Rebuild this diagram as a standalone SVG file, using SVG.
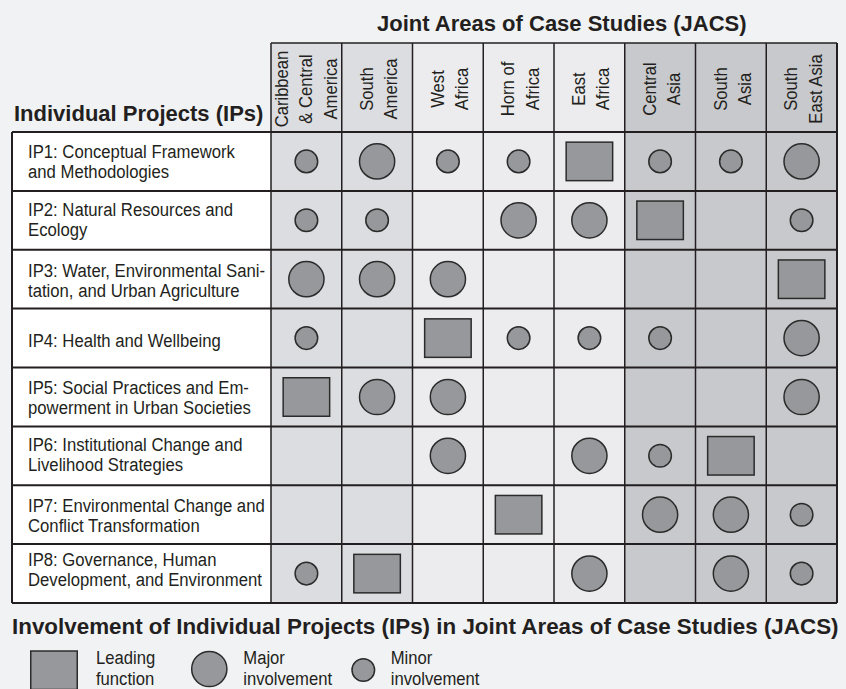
<svg xmlns="http://www.w3.org/2000/svg" xmlns:xlink="http://www.w3.org/1999/xlink" width="846" height="689" viewBox="0 0 846 689">
<style>
.title{font-family:"Liberation Sans",Arial,sans-serif;font-weight:bold;fill:#231f20}
.lbl{font-family:"Liberation Sans",Arial,sans-serif;font-size:18px;fill:#231f20}
.leg{font-family:"Liberation Sans",Arial,sans-serif;font-size:18.5px;fill:#231f20}
.hdr{font-family:"Liberation Sans",Arial,sans-serif;font-size:19px;fill:#231f20;text-anchor:middle}
.mk{fill:#97989b;stroke:#2b2b2b;stroke-width:1.5}
.hl{stroke:#231f20;stroke-width:2;fill:none}
.vl{stroke:#231f20;stroke-width:1.5;fill:none}
</style>
<defs>
<rect id="sq" class="mk" x="-23.25" y="-19.25" width="46.5" height="38.5"/>
<circle id="lg" class="mk" r="17.6"/>
<circle id="sm" class="mk" r="11.3"/>
</defs>
<rect width="846" height="689" fill="#f1f2f4"/>

<g id="titles">
<text class="title" x="377" y="31" font-size="22">Joint Areas of Case Studies (JACS)</text>
<text class="title" x="14" y="121" font-size="22">Individual Projects (IPs)</text>
<text class="title" x="12" y="634" font-size="22.4">Involvement of Individual Projects (IPs) in Joint Areas of Case Studies (JACS)</text>
</g>

<g id="table">
<rect x="271" y="43" width="141.5" height="560" fill="#dcdde0"/>
<rect x="412.5" y="43" width="212.25" height="560" fill="#ececee"/>
<rect x="624.75" y="43" width="212.25" height="560" fill="#c8c9cc"/>
<rect x="12" y="132" width="259" height="471" fill="#ffffff"/>
</g>

<g id="header">
<text class="hdr" transform="translate(287.6 89) rotate(-90) scale(0.875 1)">Caribbean</text>
<text class="hdr" transform="translate(312 89) rotate(-90) scale(0.875 1)">&amp; Central</text>
<text class="hdr" transform="translate(336.5 89) rotate(-90) scale(0.875 1)">America</text>
<text class="hdr" transform="translate(372.6 89) rotate(-90) scale(0.875 1)">South</text>
<text class="hdr" transform="translate(396.8 89) rotate(-90) scale(0.875 1)">America</text>
<text class="hdr" transform="translate(443.6 89) rotate(-90) scale(0.875 1)">West</text>
<text class="hdr" transform="translate(467.8 89) rotate(-90) scale(0.875 1)">Africa</text>
<text class="hdr" transform="translate(514.3 89) rotate(-90) scale(0.875 1)">Horn of</text>
<text class="hdr" transform="translate(538.5 89) rotate(-90) scale(0.875 1)">Africa</text>
<text class="hdr" transform="translate(585.1 89) rotate(-90) scale(0.875 1)">East</text>
<text class="hdr" transform="translate(609.3 89) rotate(-90) scale(0.875 1)">Africa</text>
<text class="hdr" transform="translate(655.8 89) rotate(-90) scale(0.875 1)">Central</text>
<text class="hdr" transform="translate(680 89) rotate(-90) scale(0.875 1)">Asia</text>
<text class="hdr" transform="translate(726.6 89) rotate(-90) scale(0.875 1)">South</text>
<text class="hdr" transform="translate(750.8 89) rotate(-90) scale(0.875 1)">Asia</text>
<text class="hdr" transform="translate(797.3 89) rotate(-90) scale(0.875 1)">South</text>
<text class="hdr" transform="translate(821.5 89) rotate(-90) scale(0.875 1)">East Asia</text>
</g>

<g id="connectors">
<path class="vl" d="M271,43H837"/>
<path class="hl" d="M12,132H837M12,190.9H837M12,249.75H837M12,308.6H837M12,367.5H837M12,426.4H837M12,485.25H837M12,544.1H837M12,603H837"/>
<path class="hl" d="M12,132V603M837,43V603"/>
<path class="vl" d="M271,43V603M341.75,43V603M412.5,43V603M483.25,43V603M554,43V603M624.75,43V603M695.5,43V603M766.25,43V603"/>
</g>

<g id="labels">
<g id="ip1"><text class="lbl" transform="translate(28 157.5) scale(0.928 1)">IP1: Conceptual Framework</text><text class="lbl" transform="translate(28 177.5) scale(0.928 1)">and Methodologies</text></g>
<g id="ip2"><text class="lbl" transform="translate(28 216) scale(0.928 1)">IP2: Natural Resources and</text><text class="lbl" transform="translate(28 236) scale(0.928 1)">Ecology</text></g>
<g id="ip3"><text class="lbl" transform="translate(28 277) scale(0.928 1)">IP3: Water, Environmental Sani-</text><text class="lbl" transform="translate(28 296.5) scale(0.928 1)">tation, and Urban Agriculture</text></g>
<g id="ip4"><text class="lbl" transform="translate(28 346.5) scale(0.928 1)">IP4: Health and Wellbeing</text></g>
<g id="ip5"><text class="lbl" transform="translate(28 394) scale(0.928 1)">IP5: Social Practices and Em-</text><text class="lbl" transform="translate(28 414) scale(0.928 1)">powerment in Urban Societies</text></g>
<g id="ip6"><text class="lbl" transform="translate(28 451) scale(0.928 1)">IP6: Institutional Change and</text><text class="lbl" transform="translate(28 471) scale(0.928 1)">Livelihood Strategies</text></g>
<g id="ip7"><text class="lbl" transform="translate(28 511.5) scale(0.928 1)">IP7: Environmental Change and</text><text class="lbl" transform="translate(28 531.5) scale(0.928 1)">Conflict Transformation</text></g>
<g id="ip8"><text class="lbl" transform="translate(28 566) scale(0.928 1)">IP8: Governance, Human</text><text class="lbl" transform="translate(28 586) scale(0.928 1)">Development, and Environment</text></g>
</g>

<g id="marks">
<g id="r1">
<use xlink:href="#sm" href="#sm" x="306.4" y="161.4"/><use xlink:href="#lg" href="#lg" x="377.1" y="161.4"/><use xlink:href="#sm" href="#sm" x="447.9" y="161.4"/><use xlink:href="#sm" href="#sm" x="518.6" y="161.4"/><use xlink:href="#sq" href="#sq" x="589.4" y="161.4"/><use xlink:href="#sm" href="#sm" x="660.1" y="161.4"/><use xlink:href="#sm" href="#sm" x="730.9" y="161.4"/><use xlink:href="#lg" href="#lg" x="801.6" y="161.4"/>
</g>
<g id="r2">
<use xlink:href="#sm" href="#sm" x="306.4" y="220.3"/><use xlink:href="#sm" href="#sm" x="377.1" y="220.3"/><use xlink:href="#lg" href="#lg" x="518.6" y="220.3"/><use xlink:href="#lg" href="#lg" x="589.4" y="220.3"/><use xlink:href="#sq" href="#sq" x="660.1" y="220.3"/><use xlink:href="#sm" href="#sm" x="801.6" y="220.3"/>
</g>
<g id="r3">
<use xlink:href="#lg" href="#lg" x="306.4" y="279.2"/><use xlink:href="#lg" href="#lg" x="377.1" y="279.2"/><use xlink:href="#lg" href="#lg" x="447.9" y="279.2"/><use xlink:href="#sq" href="#sq" x="801.6" y="279.2"/>
</g>
<g id="r4">
<use xlink:href="#sm" href="#sm" x="306.4" y="338.1"/><use xlink:href="#sq" href="#sq" x="447.9" y="338.1"/><use xlink:href="#sm" href="#sm" x="518.6" y="338.1"/><use xlink:href="#sm" href="#sm" x="589.4" y="338.1"/><use xlink:href="#sm" href="#sm" x="660.1" y="338.1"/><use xlink:href="#lg" href="#lg" x="801.6" y="338.1"/>
</g>
<g id="r5">
<use xlink:href="#sq" href="#sq" x="306.4" y="397"/><use xlink:href="#lg" href="#lg" x="377.1" y="397"/><use xlink:href="#lg" href="#lg" x="447.9" y="397"/><use xlink:href="#lg" href="#lg" x="801.6" y="397"/>
</g>
<g id="r6">
<use xlink:href="#lg" href="#lg" x="447.9" y="455.8"/><use xlink:href="#lg" href="#lg" x="589.4" y="455.8"/><use xlink:href="#sm" href="#sm" x="660.1" y="455.8"/><use xlink:href="#sq" href="#sq" x="730.9" y="455.8"/>
</g>
<g id="r7">
<use xlink:href="#sq" href="#sq" x="518.6" y="514.7"/><use xlink:href="#lg" href="#lg" x="660.1" y="514.7"/><use xlink:href="#lg" href="#lg" x="730.9" y="514.7"/><use xlink:href="#sm" href="#sm" x="801.6" y="514.7"/>
</g>
<g id="r8">
<use xlink:href="#sm" href="#sm" x="306.4" y="573.6"/><use xlink:href="#sq" href="#sq" x="377.1" y="573.6"/><use xlink:href="#lg" href="#lg" x="589.4" y="573.6"/><use xlink:href="#lg" href="#lg" x="730.9" y="573.6"/><use xlink:href="#sm" href="#sm" x="801.6" y="573.6"/>
</g>
</g>

<g id="legend">
<rect class="mk" x="30.75" y="651" width="46.5" height="38.5"/>
<text class="leg" transform="translate(96 664) scale(0.9 1)">Leading</text>
<text class="leg" transform="translate(96 685) scale(0.9 1)">function</text>
<circle class="mk" cx="209.3" cy="669" r="17.6"/>
<text class="leg" transform="translate(243.3 664) scale(0.9 1)">Major</text>
<text class="leg" transform="translate(243.3 685) scale(0.9 1)">involvement</text>
<circle class="mk" cx="363.3" cy="670" r="11.3"/>
<text class="leg" transform="translate(390.7 664) scale(0.9 1)">Minor</text>
<text class="leg" transform="translate(390.7 685) scale(0.9 1)">involvement</text>
</g>
</svg>
